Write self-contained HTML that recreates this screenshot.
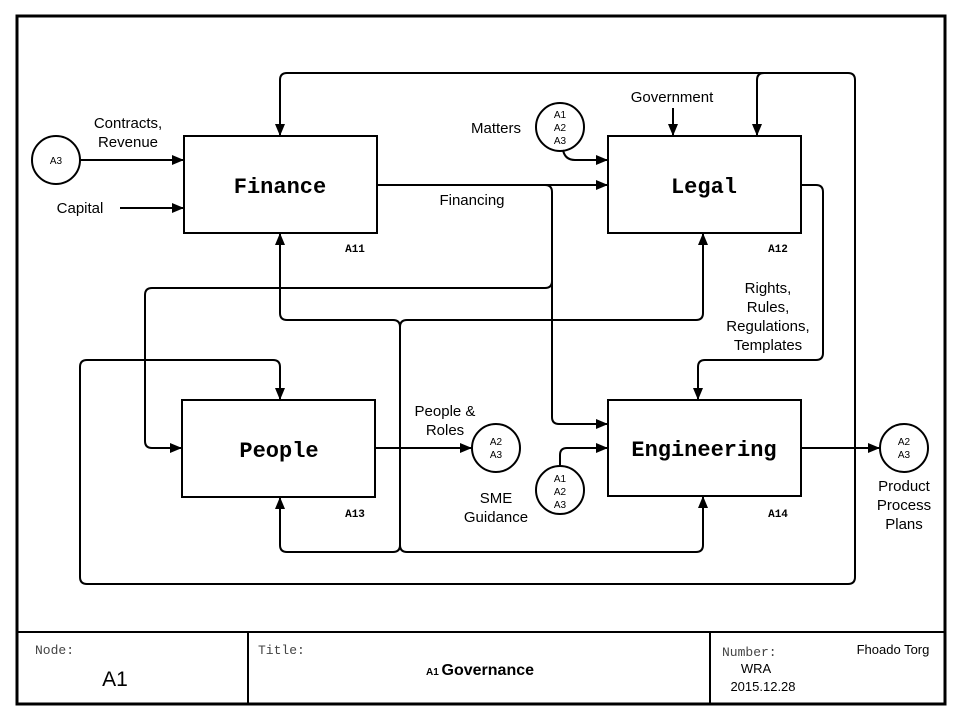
<!DOCTYPE html>
<html><head><style>body{margin:0;background:#fff}svg{display:block}</style></head><body>
<svg width="960" height="720" xmlns="http://www.w3.org/2000/svg" font-family="Liberation Sans, sans-serif">
<defs><marker id="a" markerWidth="12" markerHeight="10" refX="12" refY="5" orient="auto" markerUnits="userSpaceOnUse"><path d="M0,0 L12,5 L0,10 z" fill="#000"/></marker></defs>
<rect x="0" y="0" width="960" height="720" fill="#fff"/>
<rect x="17" y="16" width="928" height="688" fill="none" stroke="#000" stroke-width="3"/>
<line x1="17" y1="632" x2="945" y2="632" stroke="#000" stroke-width="2"/>
<line x1="248" y1="632" x2="248" y2="704" stroke="#000" stroke-width="2"/>
<line x1="710" y1="632" x2="710" y2="704" stroke="#000" stroke-width="2"/>
<g fill="none" stroke="#000" stroke-width="2">
<rect x="184" y="136" width="193" height="97"/>
<rect x="608" y="136" width="193" height="97"/>
<rect x="182" y="400" width="193" height="97"/>
<rect x="608" y="400" width="193" height="96"/>
<circle cx="56" cy="160" r="24"/>
<circle cx="560" cy="127" r="24"/>
<circle cx="496" cy="448" r="24"/>
<circle cx="560" cy="490" r="24"/>
<circle cx="904" cy="448" r="24"/>
<path d="M80,160 H184" marker-end="url(#a)"/>
<path d="M120,208 H184" marker-end="url(#a)"/>
<path d="M855,448 V80 Q855,73 848,73 H287 Q280,73 280,80 V136" marker-end="url(#a)"/>
<path d="M764,73 Q757,73 757,80 V136" marker-end="url(#a)"/>
<path d="M855,448 V577 Q855,584 848,584 H87 Q80,584 80,577 V367 Q80,360 87,360 H273 Q280,360 280,367 V400" marker-end="url(#a)"/>
<path d="M673,108 V136" marker-end="url(#a)"/>
<path d="M563,150 Q565,160 575,160 H608" marker-end="url(#a)"/>
<path d="M377,185 H608" marker-end="url(#a)"/>
<path d="M545,185 Q552,185 552,192 V281 Q552,288 545,288 H152 Q145,288 145,295 V441 Q145,448 152,448 H182" marker-end="url(#a)"/>
<path d="M552,281 V417 Q552,424 559,424 H608" marker-end="url(#a)"/>
<path d="M801,185 H816 Q823,185 823,192 V353 Q823,360 816,360 H705 Q698,360 698,367 V400" marker-end="url(#a)"/>
<path d="M375,448 H472" marker-end="url(#a)"/>
<path d="M400,448 V327 Q400,320 393,320 H287 Q280,320 280,313 V233" marker-end="url(#a)"/>
<path d="M400,327 Q400,320 407,320 H696 Q703,320 703,313 V233" marker-end="url(#a)"/>
<path d="M400,448 V545 Q400,552 393,552 H287 Q280,552 280,545 V497" marker-end="url(#a)"/>
<path d="M400,545 Q400,552 407,552 H696 Q703,552 703,545 V496" marker-end="url(#a)"/>
<path d="M560,466 V455 Q560,448 567,448 H608" marker-end="url(#a)"/>
<path d="M801,448 H880" marker-end="url(#a)"/>
</g>
<g font-family="Liberation Mono, monospace" font-weight="bold" font-size="22" text-anchor="middle">
<text x="280" y="193">Finance</text>
<text x="704" y="193">Legal</text>
<text x="279" y="457">People</text>
<text x="704" y="456">Engineering</text>
</g>
<g font-family="Liberation Mono, monospace" font-weight="bold" font-size="11" text-anchor="middle">
<text x="355" y="252">A11</text><text x="778" y="252">A12</text><text x="355" y="517">A13</text><text x="778" y="517">A14</text>
</g>
<g font-size="15" text-anchor="middle">
<text x="128" y="128">Contracts,</text><text x="128" y="147">Revenue</text>
<text x="80" y="213">Capital</text>
<text x="496" y="133">Matters</text>
<text x="672" y="102">Government</text>
<text x="472" y="205">Financing</text>
<text x="768" y="293">Rights,</text><text x="768" y="312">Rules,</text><text x="768" y="331">Regulations,</text><text x="768" y="350">Templates</text>
<text x="445" y="416">People &amp;</text><text x="445" y="435">Roles</text>
<text x="496" y="503">SME</text><text x="496" y="522">Guidance</text>
<text x="904" y="491">Product</text><text x="904" y="510">Process</text><text x="904" y="529">Plans</text>
</g>
<g font-size="10" text-anchor="middle">
<text x="56" y="164">A3</text>
<text x="560" y="118">A1</text><text x="560" y="131">A2</text><text x="560" y="144">A3</text>
<text x="496" y="445">A2</text><text x="496" y="458">A3</text>
<text x="560" y="482">A1</text><text x="560" y="495">A2</text><text x="560" y="508">A3</text>
<text x="904" y="445">A2</text><text x="904" y="458">A3</text>
</g>
<g font-family="Liberation Mono, monospace" font-size="13" fill="#444">
<text x="35" y="654">Node:</text><text x="258" y="654">Title:</text><text x="722" y="656">Number:</text>
</g>
<text x="115" y="686" font-size="21" text-anchor="middle">A1</text>
<text x="480" y="675" text-anchor="middle"><tspan font-size="10" font-weight="bold">A1 </tspan><tspan font-size="16" font-weight="bold">Governance</tspan></text>
<text x="893" y="654" font-size="13" text-anchor="middle">Fhoado Torg</text>
<text x="756" y="673" font-size="13" text-anchor="middle">WRA</text>
<text x="763" y="691" font-size="13" text-anchor="middle">2015.12.28</text>
</svg>
</body></html>
